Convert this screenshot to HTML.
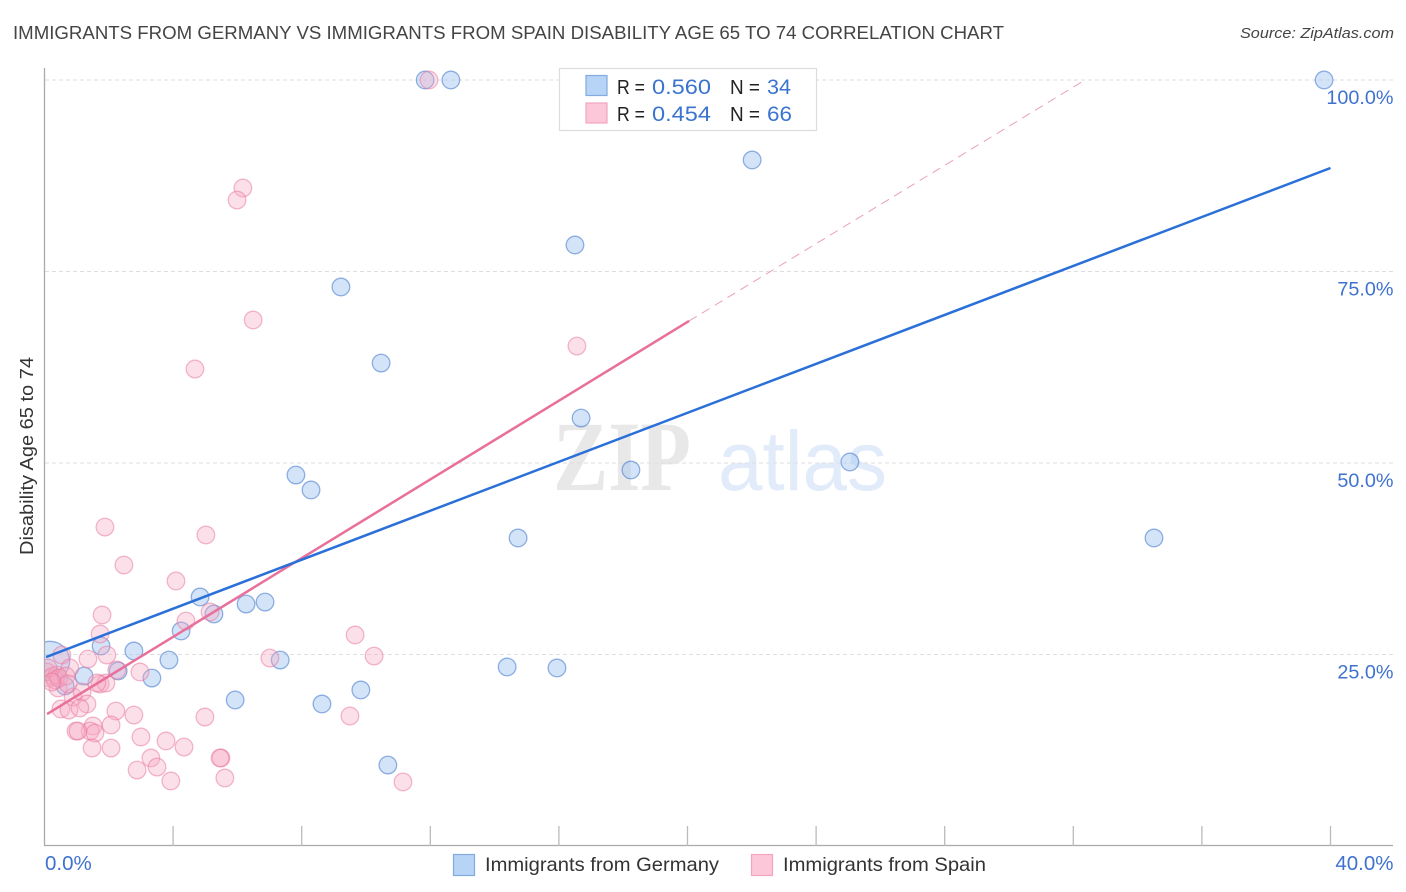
<!DOCTYPE html>
<html>
<head>
<meta charset="utf-8">
<title>Correlation chart</title>
<style>
html,body{margin:0;padding:0;background:#fff;}
svg{display:block;font-family:"Liberation Sans",sans-serif;}
</style>
</head>
<body>
<svg id="chart" width="1406" height="892" viewBox="0 0 1406 892">
  <defs><clipPath id="plot-clip"><rect x="45" y="60" width="1348" height="786"/></clipPath></defs>
  <text x="13" y="39" font-size="18.5" fill="#444" textLength="991" lengthAdjust="spacingAndGlyphs">IMMIGRANTS FROM GERMANY VS IMMIGRANTS FROM SPAIN DISABILITY AGE 65 TO 74 CORRELATION CHART</text>
  <text x="1394" y="38" font-size="15" font-style="italic" fill="#444" text-anchor="end" textLength="154" lengthAdjust="spacingAndGlyphs">Source: ZipAtlas.com</text>

  <g id="watermark">
    <text x="553" y="490" font-family="'Liberation Serif',serif" font-weight="bold" font-size="100" fill="#e8e8e8" textLength="138" lengthAdjust="spacingAndGlyphs">ZIP</text>
    <text x="718" y="490" font-size="84" fill="#e2ebfa" textLength="169" lengthAdjust="spacingAndGlyphs">atlas</text>
  </g>

  <g id="grid"></g>
  <g id="axes"></g>
  <g id="ylabels"></g>
  <g id="xlabels"></g>
  <text transform="translate(33,456) rotate(-90)" font-size="18.5" fill="#333" text-anchor="middle" textLength="198" lengthAdjust="spacingAndGlyphs">Disability Age 65 to 74</text>

  <g id="points-germany" clip-path="url(#plot-clip)"></g>
  <g id="points-spain" clip-path="url(#plot-clip)"></g>
  <g id="trends"></g>

  <g>
    <rect x="559.5" y="68.5" width="257" height="62" fill="#fff" stroke="#dcdcdc" stroke-width="1.2"/>
    <rect x="586" y="75.5" width="21" height="20" fill="#b7d3f6" stroke="#82abe0" stroke-width="1.2"/>
    <rect x="586" y="103" width="21" height="20" fill="#fcc7d8" stroke="#f3a5bd" stroke-width="1.2"/>
    <g font-size="20">
      <text x="617" y="94" fill="#222" textLength="28" lengthAdjust="spacingAndGlyphs">R =</text>
      <text x="652" y="94" fill="#3b74cf" font-size="21.5" textLength="59" lengthAdjust="spacingAndGlyphs">0.560</text>
      <text x="730" y="94" fill="#222" textLength="30" lengthAdjust="spacingAndGlyphs">N =</text>
      <text x="767" y="94" fill="#3b74cf" font-size="21.5" textLength="24" lengthAdjust="spacingAndGlyphs">34</text>
      <text x="617" y="121" fill="#222" textLength="28" lengthAdjust="spacingAndGlyphs">R =</text>
      <text x="652" y="121" fill="#3b74cf" font-size="21.5" textLength="59" lengthAdjust="spacingAndGlyphs">0.454</text>
      <text x="730" y="121" fill="#222" textLength="30" lengthAdjust="spacingAndGlyphs">N =</text>
      <text x="767" y="121" fill="#3b74cf" font-size="21.5" textLength="25" lengthAdjust="spacingAndGlyphs">66</text>
    </g>
  </g>

  <g>
    <rect x="453.5" y="854.5" width="21" height="21" fill="#b7d3f6" stroke="#82abe0" stroke-width="1.2"/>
    <text x="485" y="871" font-size="19.5" fill="#333" textLength="234" lengthAdjust="spacingAndGlyphs">Immigrants from Germany</text>
    <rect x="751.5" y="854.5" width="21" height="21" fill="#fcc7d8" stroke="#f3a5bd" stroke-width="1.2"/>
    <text x="783" y="871" font-size="19.5" fill="#333" textLength="203" lengthAdjust="spacingAndGlyphs">Immigrants from Spain</text>
  </g>
</svg>
<script>
var germanyX = [11.84,12.64,39.80,22.01,16.50,9.22,10.47,16.69,18.24,25.05,7.82,8.29,14.73,34.51,4.84,6.27,6.86,5.27,4.25,1.76,2.78,3.87,7.33,2.29,3.34,1.23,14.39,15.94,5.93,8.63,9.84,10.68,0.17,0.64];
var germanyY = [100,100,100,89.56,78.46,72.98,63.05,55.87,49.09,50.13,48.43,46.48,40.21,40.21,32.51,31.59,31.85,30.29,28.07,26.11,25.46,24.28,24.28,22.85,21.93,22.19,23.37,23.24,19.06,18.54,20.37,10.57,24.15,20.89];
var germanyWeight = [1,1,1,1,1,1,1,1,1,1,1,1,1,1,1,1,1,1,1,1,1,1,1,1,1,1,1,1,1,1,1,1,5,1];
var spainX = [11.96,6.17,5.99,6.49,4.68,16.56,1.88,5.02,2.47,4.09,1.79,4.40,5.15,1.73,9.66,10.25,7.01,1.35,1.94,0.54,0.79,2.97,2.25,1.73,1.91,1.63,0.42,0.89,1.17,1.32,0.51,0.76,1.10,2.22,2.78,4.99,9.50,2.07,1.51,1.42,1.57,0.98,1.04,3.00,3.78,4.34,1.48,2.07,3.31,5.49,5.46,2.88,3.50,3.93,5.61,11.15,0.08,0.17,0.26,0.33,0.39,0.11,0.45,0.67,0.73,0.23];
var spainY = [100,85.90,84.33,68.67,62.27,65.27,41.64,40.60,36.68,34.60,30.16,29.37,30.55,27.68,27.55,24.80,24.54,24.41,24.93,24.93,23.24,22.72,22.98,21.15,21.28,21.28,20.63,19.45,20.10,18.54,17.89,17.75,18.02,17.62,17.10,16.84,16.97,15.80,15.67,15.01,14.75,15.01,15.01,14.23,13.71,12.92,12.79,12.79,11.49,11.49,11.49,9.92,10.31,8.49,8.88,8.36,22.72,21.93,22.19,21.67,22.32,23.24,21.93,22.19,21.15,21.41];
var germanyTrendX = [0.05,40];
var germanyTrendY = [24.67,88.51];
var spainTrendX = [0.08,20.05];
var spainTrendY = [17.23,68.54];
var spainDashX = [20.05,32.36];
var spainDashY = [68.54,100];
var yTicks = [25,50,75,100];
var yTickLabels = ["25.0%","50.0%","75.0%","100.0%"];
var xTicks = [0,4,8,12,16,20,24,28,32,36,40];
var xEndValues = [0,40];
var xEndLabels = ["0.0%","40.0%"];

var NS = 'http://www.w3.org/2000/svg';
function sx(v){ return 44.5 + v * 32.15; }
function sy(v){ return 846 - v * 7.66; }
function mk(parent, tag, attrs){
  var el = document.createElementNS(NS, tag);
  for (var k in attrs) el.setAttribute(k, attrs[k]);
  document.getElementById(parent).appendChild(el);
  return el;
}

yTicks.forEach(function(t, i){
  var g = mk('grid', 'line', {x1:45, x2:1393, y1:sy(t), y2:sy(t), stroke:'#dedede', 'stroke-width':1, 'stroke-dasharray':'4 3'});
  
  
  var lab = mk('ylabels', 'text', {x:1393.5, y:sy(t) + 24, 'text-anchor':'end', 'font-size':19.8, fill:'#3f72cf'});
  lab.textContent = yTickLabels[i];
  
  
});

var yAxis = mk('axes', 'line', {x1:44.5, x2:44.5, y1:68, y2:846, stroke:'#aaaaaa', 'stroke-width':1.3});


var xAxis = mk('axes', 'line', {x1:44, x2:1393, y1:845.5, y2:845.5, stroke:'#aaaaaa', 'stroke-width':1.3});


xTicks.forEach(function(t){
  if (t === 0) return;
  var tick = mk('axes', 'line', {x1:sx(t), x2:sx(t), y1:826, y2:846, stroke:'#bbbbbb', 'stroke-width':1.3});
  
  
});
xEndValues.forEach(function(v, i){
  var lab = mk('xlabels', 'text', {x: i === 0 ? sx(v) + 0.5 : 1393.5, y:870, 'text-anchor': i === 0 ? 'start' : 'end', 'font-size':20.5, fill:'#3f72cf'});
  lab.textContent = xEndLabels[i];
  
  
});

germanyX.forEach(function(x, i){
  var c = mk('points-germany', 'circle', {cx:sx(x), cy:sy(germanyY[i]), r:8.8 * Math.sqrt(germanyWeight[i]), fill:'rgba(164,198,243,0.48)', stroke:'rgba(62,116,202,0.55)', 'stroke-width':1.3});
  
  
});
spainX.forEach(function(x, i){
  var c = mk('points-spain', 'circle', {cx:sx(x), cy:sy(spainY[i]), r:8.8, fill:'rgba(247,170,195,0.36)', stroke:'rgba(231,115,155,0.5)', 'stroke-width':1.3});
  
  
});

var t1 = mk('trends', 'line', {x1:sx(spainDashX[0]), y1:sy(spainDashY[0]), x2:sx(spainDashX[1]), y2:sy(spainDashY[1]), stroke:'#eaa0b8', 'stroke-width':1, 'stroke-dasharray':'9 6'});


var t2 = mk('trends', 'line', {x1:sx(spainTrendX[0]), y1:sy(spainTrendY[0]), x2:sx(spainTrendX[1]), y2:sy(spainTrendY[1]), stroke:'#e8709a', 'stroke-width':2.5});


var t3 = mk('trends', 'line', {x1:sx(germanyTrendX[0]), y1:sy(germanyTrendY[0]), x2:sx(germanyTrendX[1]), y2:sy(germanyTrendY[1]), stroke:'#2a70d8', 'stroke-width':2.5});


</script>
</body>
</html>
